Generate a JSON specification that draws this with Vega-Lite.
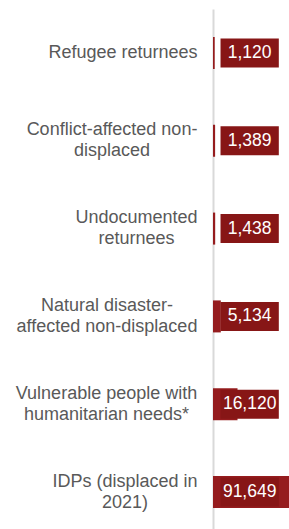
{
  "$schema": "https://vega.github.io/schema/vega-lite/v6.json",
  "width": 76,
  "height": 527,
  "autosize": {"type": "none"},
  "padding": {"left": 213, "top": 9, "right": 0, "bottom": 0},
  "background": "white",
  "config": {"view": {"stroke": null}, "font": "Liberation Sans"},
  "data": {
    "values": [
      {"group": "Refugee returnees", "value": 1120},
      {"group": "Conflict-affected non-|displaced", "value": 1389},
      {"group": "Undocumented|returnees", "value": 1438},
      {"group": "Natural disaster-|affected non-displaced", "value": 5134},
      {"group": "Vulnerable people with|humanitarian needs*", "value": 16120},
      {"group": "IDPs (displaced in|2021)", "value": 91649}
    ]
  },
  "encoding": {
    "y": {
      "field": "group",
      "type": "nominal",
      "sort": null,
      "scale": {"paddingInner": 0, "paddingOuter": 0},
      "axis": {
        "title": null,
        "ticks": false,
        "tickSize": 0,
        "labelAlign": "center",
        "labelBaseline": "middle",
        "labelFontSize": 18,
        "labelColor": "#595959",
        "labelFont": "Liberation Sans",
        "labelLineHeight": 21,
        "labelLimit": 0,
        "labelExpr": "split(datum.label, '|')",
        "domainColor": "#D9D9D9",
        "domainWidth": 2,
        "labelOffset": {
          "condition": {"test": "indexof(datum.value, '|') >= 0", "value": -10.5},
          "value": 0
        },
        "labelPadding": {
          "condition": [
            {"test": "datum.value === 'Refugee returnees'", "value": 90.5},
            {"test": "datum.value === 'Conflict-affected non-|displaced'", "value": 101.5},
            {"test": "datum.value === 'Undocumented|returnees'", "value": 77},
            {"test": "datum.value === 'Natural disaster-|affected non-displaced'", "value": 106.5},
            {"test": "datum.value === 'Vulnerable people with|humanitarian needs*'", "value": 107}
          ],
          "value": 88.5
        }
      }
    }
  },
  "layer": [
    {
      "mark": {"type": "bar", "color": "#951C1E", "height": 32, "clip": true},
      "encoding": {
        "x": {"field": "value", "type": "quantitative", "scale": {"domain": [0, 47000]}, "axis": null}
      }
    },
    {
      "mark": {"type": "bar", "color": "#871616", "height": 29},
      "encoding": {
        "x": {"datum": 4950},
        "x2": {"datum": 43300}
      }
    },
    {
      "mark": {"type": "text", "color": "white", "fontSize": 17.5, "font": "Liberation Sans", "baseline": "middle"},
      "encoding": {
        "x": {"datum": 24120},
        "text": {"field": "value", "type": "quantitative", "format": ","}
      }
    }
  ]
}
